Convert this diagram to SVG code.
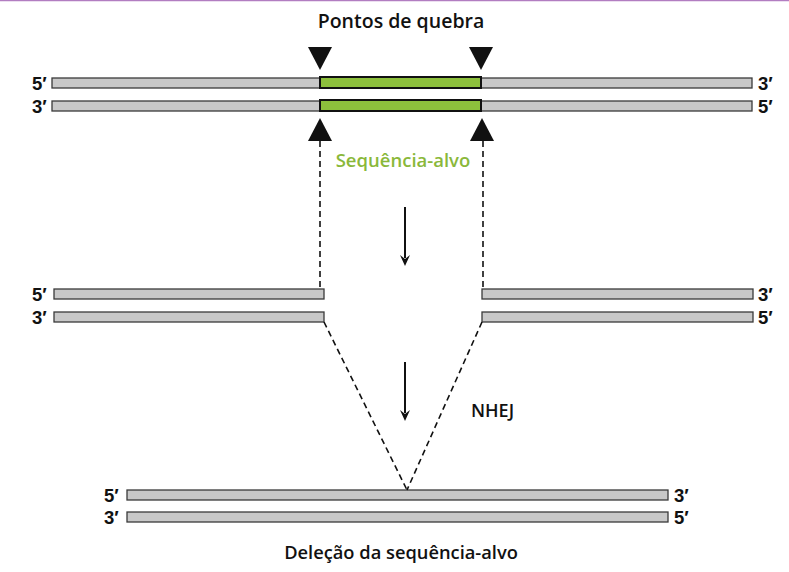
<svg xmlns="http://www.w3.org/2000/svg" width="789" height="572" viewBox="0 0 789 572">
<defs>
<style>
.strand{fill:#c8c8c8;stroke:#3a3a3a;stroke-width:1.3}
.target{fill:#8dc03c;stroke:#111;stroke-width:2}
.lbl{font-family:"Liberation Sans",Arial,sans-serif;font-size:18.5px;font-weight:700;fill:#111}
.title{font-family:"Open Sans","Liberation Sans",sans-serif;font-weight:600;fill:#111;text-anchor:middle}
.dash{fill:none;stroke:#111;stroke-width:1.6;stroke-dasharray:6 4}
.arrow{stroke:#111;stroke-width:2;fill:none}
.tri{fill:#111}
</style>
</defs>
<rect width="789" height="572" fill="#fff"/>
<line x1="0" y1="0.5" x2="789" y2="0.5" stroke="#b27dc1" stroke-width="1.5"/>

<text class="title" x="401" y="28" font-size="19.5">Pontos de quebra</text>

<g id="top-dna">
<rect class="strand" x="52" y="78" width="700" height="10"/>
<rect class="strand" x="52" y="101" width="700" height="10"/>
<rect class="target" x="320" y="77" width="161" height="11"/>
<rect class="target" x="320" y="100" width="161" height="11"/>
<text class="lbl" x="32" y="90">5′</text>
<text class="lbl" x="32" y="113">3′</text>
<text class="lbl" x="758" y="90">3′</text>
<text class="lbl" x="758" y="113">5′</text>
</g>

<g id="break-markers">
<polygon class="tri" points="308,47 332,47 320,70"/>
<polygon class="tri" points="469,47 493,47 481,70"/>
<polygon class="tri" points="308,141 332,141 320,118"/>
<polygon class="tri" points="470,141 494,141 482,118"/>
</g>

<text id="seq-label" x="403" y="167" font-family="'Open Sans','Liberation Sans',sans-serif" font-size="18.5" font-weight="600" fill="#8ab83a" text-anchor="middle">Sequência-alvo</text>

<g id="middle-dna">
<rect class="strand" x="54" y="289" width="270" height="10"/>
<rect class="strand" x="54" y="312" width="270" height="10"/>
<rect class="strand" x="482" y="289" width="271" height="10"/>
<rect class="strand" x="482" y="312" width="271" height="10"/>
<text class="lbl" x="32" y="301">5′</text>
<text class="lbl" x="32" y="324">3′</text>
<text class="lbl" x="758" y="301">3′</text>
<text class="lbl" x="758" y="324">5′</text>
</g>

<text id="nhej" x="471" y="417" font-family="'Open Sans','Liberation Sans',sans-serif" font-size="18" font-weight="600" fill="#111">NHEJ</text>

<g id="bottom-dna">
<rect class="strand" x="127" y="490" width="541" height="10"/>
<rect class="strand" x="127" y="512" width="541" height="10"/>
<text class="lbl" x="104" y="502">5′</text>
<text class="lbl" x="104" y="524">3′</text>
<text class="lbl" x="674" y="502">3′</text>
<text class="lbl" x="674" y="524">5′</text>
</g>

<text class="title" x="401" y="559" font-size="18.3">Deleção da sequência-alvo</text>

<g id="connectors">
<line class="dash" x1="320" y1="141" x2="320" y2="289"/>
<line class="dash" x1="483" y1="141" x2="483" y2="289"/>
<line class="dash" x1="324" y1="322" x2="407" y2="490"/>
<line class="dash" x1="482" y1="322" x2="407" y2="490"/>
<line class="arrow" x1="405" y1="207" x2="405" y2="258"/>
<polygon class="tri" points="400,255 405,259 410,255 405,266"/>
<line class="arrow" x1="405" y1="362" x2="405" y2="413"/>
<polygon class="tri" points="400,410 405,414 410,410 405,421"/>
</g>
</svg>
